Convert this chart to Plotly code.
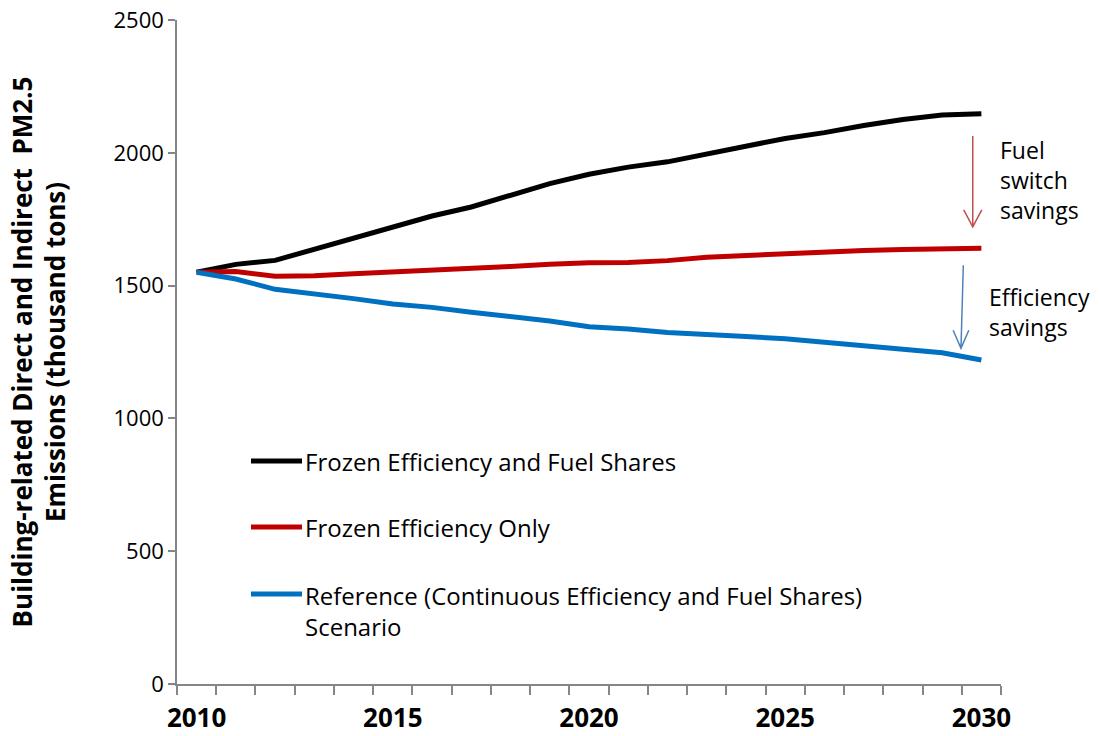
import plotly.graph_objects as go

# Building-related PM2.5 emissions, thousand tons, 2010-2030
years = list(range(2010, 2031))
frozen_eff_fuel = [1550, 1580, 1595, 1636, 1679, 1720, 1762, 1796, 1841, 1884, 1919,
                   1946, 1966, 1995, 2025, 2054, 2076, 2103, 2125, 2142, 2147]
frozen_eff_only = [1550, 1553, 1535, 1537, 1545, 1551, 1557, 1564, 1572, 1580, 1586,
                   1587, 1594, 1607, 1614, 1620, 1626, 1632, 1636, 1640, 1641]
reference = [1550, 1525, 1486, 1470, 1451, 1431, 1418, 1400, 1385, 1367, 1345,
             1337, 1323, 1317, 1308, 1300, 1288, 1275, 1260, 1247, 1220]

series_names = ["Frozen Efficiency and Fuel Shares",
                "Frozen Efficiency Only",
                "Reference (Continuous Efficiency and Fuel Shares)<br>Scenario"]
series_colors = ["#000000", "#C00000", "#0070C0"]
year_labels = [2010, 2015, 2020, 2025, 2030]
y_ticks = [0, 500, 1000, 1500, 2000, 2500]

FONT = "Open Sans"
AXIS_GREY = "#868686"

fig = go.Figure()
for name, vals, col in zip(series_names, [frozen_eff_fuel, frozen_eff_only, reference], series_colors):
    fig.add_trace(go.Scatter(x=years, y=vals, mode="lines", name=name,
                             line=dict(color=col, width=5), showlegend=False))

# Hand-placed legend: line swatch + label per series
legend_rows = [0.3358, 0.2364, 0.1355]
shapes = []
annotations = []
for name, col, yy in zip(series_names, series_colors, legend_rows):
    shapes.append(dict(type="line", xref="paper", yref="paper", x0=0.0898, x1=0.1517,
                       y0=yy, y1=yy, line=dict(color=col, width=5)))
    two_line = "<br>" in name
    annotations.append(dict(xref="paper", yref="paper", x=0.1535,
                            y=yy + (0.0256 if two_line else 0), xanchor="left",
                            yanchor="top" if two_line else "middle",
                            text=name, showarrow=False, align="left",
                            font=dict(family=FONT, size=24, color="#000")))


def down_arrow(x_top, y_top, x_bot, y_bot, dx, dy, color):
    path = (f"M {x_top},{y_top} L {x_bot},{y_bot} "
            f"M {x_bot - dx},{y_bot + dy} L {x_bot},{y_bot} L {x_bot + dx},{y_bot + dy}")
    return dict(type="path", xref="x", yref="y", path=path,
                line=dict(color=color, width=1.5))


# savings arrows between the scenarios at the end of the period
shapes.append(down_arrow(2029.78, 2063, 2029.78, 1721, 0.23, 64, "#C0504D"))
shapes.append(down_arrow(2029.54, 1577, 2029.48, 1264, 0.20, 68, "#4F81BD"))

annotations.append(dict(xref="paper", yref="paper", x=0.9964, y=0.7590,
                        xanchor="left", yanchor="middle", align="left",
                        text="Fuel<br>switch<br>savings", showarrow=False,
                        font=dict(family=FONT, size=23, color="#000")))
annotations.append(dict(xref="paper", yref="paper", x=0.9830, y=0.5602,
                        xanchor="left", yanchor="middle", align="left",
                        text="Efficiency<br>savings", showarrow=False,
                        font=dict(family=FONT, size=23, color="#000")))

fig.update_layout(
    width=1099, height=736,
    margin=dict(l=177, r=98, t=20, b=52),
    paper_bgcolor="white", plot_bgcolor="white",
    shapes=shapes, annotations=annotations,
    xaxis=dict(range=[2009.5, 2030.5], tickvals=year_labels,
               ticktext=[str(v) for v in year_labels], ticks="",
               ticklabelstandoff=10, automargin=False,
               tickfont=dict(family=FONT, size=26, color="#000", weight="bold"),
               showline=True, linecolor=AXIS_GREY, linewidth=1.5,
               showgrid=False, zeroline=False,
               minor=dict(tickmode="array",
                          tickvals=[y - 0.5 for y in years] + [years[-1] + 0.5],
                          ticks="outside", ticklen=9, tickwidth=1.5,
                          tickcolor=AXIS_GREY, showgrid=False)),
    yaxis=dict(range=[0, 2500], tickvals=y_ticks, ticks="outside", ticklen=7,
               tickwidth=1.5, tickcolor=AXIS_GREY, automargin=False,
               tickfont=dict(family=FONT, size=22, color="#000"),
               showline=True, linecolor=AXIS_GREY, linewidth=1.5,
               showgrid=False, zeroline=False,
               title=dict(text="Building-related Direct and Indirect  PM2.5<br>Emissions (thousand tons)",
                          font=dict(family=FONT, size=26, color="#000", weight="bold"),
                          standoff=40)),
)

fig.write_html("out.html")
